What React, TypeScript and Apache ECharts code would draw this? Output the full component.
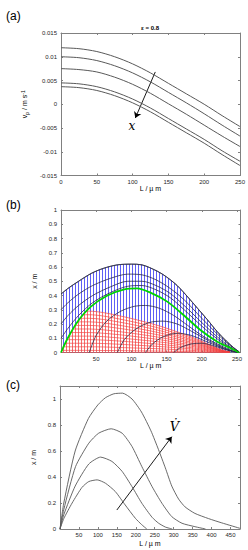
import React, { useEffect, useRef } from 'react';
import * as echarts from 'echarts';

// ---------- Panel (a) ----------
const lA = [0, 25, 50, 75, 100, 125, 150, 175, 200, 225, 250];
const vp1 = [0.0119, 0.0117, 0.0111, 0.0100, 0.0085, 0.0066, 0.0044, 0.0022, 0.0000, -0.0024, -0.0047];
const vp2 = [0.0100, 0.0098, 0.0092, 0.0081, 0.0066, 0.0047, 0.0025, 0.0003, -0.0020, -0.0044, -0.0067];
const vp3 = [0.0075, 0.0073, 0.0068, 0.0057, 0.0042, 0.0023, 0.0001, -0.0021, -0.0044, -0.0067, -0.0089];
const vp4 = [0.0045, 0.0043, 0.0037, 0.0026, 0.0011, -0.0008, -0.0030, -0.0052, -0.0074, -0.0098, -0.0120];
const vp5 = [0.0037, 0.0035, 0.0029, 0.0018, 0.0003, -0.0016, -0.0038, -0.0060, -0.0082, -0.0106, -0.0129];
const arrowA = [[131.7, 0.0068], [103.8, -0.0029]];
const arrowALabel = [99, -0.0046];

// ---------- Panel (b) ----------
const topEnv = [[0, 0.41], [10, 0.45], [25, 0.5], [43, 0.555], [60, 0.59], [80, 0.615], [100, 0.62], [115, 0.615], [137, 0.57], [150, 0.53], [165, 0.47], [180, 0.39], [194, 0.31], [208, 0.23], [222, 0.146], [235, 0.08], [245, 0.035], [253, 0.005]];
const curveA1 = [[0, 0.30], [10, 0.35], [25, 0.41], [45, 0.47], [70, 0.52], [95, 0.55], [115, 0.545], [135, 0.51], [155, 0.45], [175, 0.37], [200, 0.24], [222, 0.13], [240, 0.05], [253, 0.004]];
const curveA2 = [[0, 0.20], [10, 0.26], [25, 0.33], [45, 0.40], [70, 0.46], [95, 0.50], [115, 0.50], [135, 0.47], [155, 0.415], [175, 0.33], [200, 0.21], [222, 0.11], [240, 0.04], [253, 0.003]];
const curveA3 = [[0, 0.10], [10, 0.17], [25, 0.26], [45, 0.35], [70, 0.42], [95, 0.465], [115, 0.47], [135, 0.44], [155, 0.385], [175, 0.30], [200, 0.185], [222, 0.095], [240, 0.035], [253, 0.002]];
const greenCurve = [[0, 0], [9.5, 0.10], [23.5, 0.216], [42, 0.32], [66, 0.40], [90, 0.443], [108, 0.45], [127, 0.42], [151, 0.357], [174, 0.263], [198, 0.158], [222, 0.076], [241, 0.03], [253, 0]];
const curveB1 = [[40, 0], [50, 0.12], [65, 0.22], [85, 0.29], [105, 0.325], [120, 0.33], [140, 0.31], [160, 0.26], [180, 0.19], [200, 0.12], [222, 0.06], [240, 0.02], [253, 0]];
const curveB2 = [[80, 0], [90, 0.09], [105, 0.16], [125, 0.21], [145, 0.22], [165, 0.2], [185, 0.15], [205, 0.095], [225, 0.045], [240, 0.015], [253, 0]];
const curveB3 = [[120, 0], [130, 0.06], [145, 0.11], [165, 0.135], [185, 0.12], [205, 0.08], [225, 0.04], [240, 0.012], [253, 0]];
const curveB4 = [[160, 0], [170, 0.035], [185, 0.06], [200, 0.065], [215, 0.05], [230, 0.025], [245, 0.006], [253, 0]];
const redEnv = [[0, 0], [9.5, 0.10], [23.5, 0.216], [36, 0.29], [40, 0.29], [60, 0.28], [90, 0.25], [115, 0.22], [140, 0.186], [165, 0.145], [185, 0.11], [200, 0.08], [215, 0.045], [230, 0.015], [240, 0.003]];
const red1 = [[36, 0.29], [40, 0.29], [60, 0.28], [90, 0.25], [115, 0.22], [140, 0.186], [165, 0.145], [185, 0.11], [200, 0.08], [215, 0.045], [230, 0.015], [240, 0.003]];
const red2 = [[31.8, 0.265], [40, 0.265], [60, 0.256], [90, 0.228], [115, 0.201], [140, 0.17], [165, 0.133], [185, 0.101], [200, 0.073], [215, 0.041], [230, 0.014], [240, 0.003]];
const red3 = [[27.6, 0.24], [40, 0.24], [60, 0.232], [90, 0.207], [115, 0.182], [140, 0.154], [165, 0.12], [185, 0.091], [200, 0.066], [215, 0.037], [230, 0.012], [240, 0.002]];
const red4 = [[23.4, 0.215], [40, 0.215], [60, 0.208], [90, 0.185], [115, 0.163], [140, 0.138], [165, 0.108], [185, 0.082], [200, 0.059], [215, 0.033], [230, 0.011], [240, 0.002]];
const red5 = [[20.3, 0.19], [40, 0.19], [60, 0.184], [90, 0.164], [115, 0.144], [140, 0.122], [165, 0.095], [185, 0.072], [200, 0.052], [215, 0.029], [230, 0.01], [240, 0.002]];
const red6 = [[17.3, 0.165], [40, 0.165], [60, 0.159], [90, 0.142], [115, 0.125], [140, 0.106], [165, 0.083], [185, 0.063], [200, 0.046], [215, 0.026], [230, 0.009], [240, 0.002]];
const red7 = [[14.3, 0.14], [40, 0.14], [60, 0.135], [90, 0.121], [115, 0.106], [140, 0.09], [165, 0.07], [185, 0.053], [200, 0.039], [215, 0.022], [230, 0.007], [240, 0.001]];
const red8 = [[11.3, 0.115], [40, 0.115], [60, 0.111], [90, 0.099], [115, 0.087], [140, 0.074], [165, 0.058], [185, 0.044], [200, 0.032], [215, 0.018], [230, 0.006], [240, 0.001]];
const red9 = [[8.5, 0.09], [40, 0.09], [60, 0.087], [90, 0.078], [115, 0.068], [140, 0.058], [165, 0.045], [185, 0.034], [200, 0.025], [215, 0.014], [230, 0.005], [240, 0.001]];
const red10 = [[6.2, 0.065], [40, 0.065], [60, 0.063], [90, 0.056], [115, 0.049], [140, 0.042], [165, 0.033], [185, 0.025], [200, 0.018], [215, 0.01], [230, 0.003], [240, 0.001]];
const red11 = [[3.8, 0.04], [40, 0.04], [60, 0.039], [90, 0.034], [115, 0.03], [140, 0.026], [165, 0.02], [185, 0.015], [200, 0.011], [215, 0.006], [230, 0.002], [240, 0]];
const red12 = [[1.4, 0.015], [40, 0.015], [60, 0.014], [90, 0.013], [115, 0.011], [140, 0.01], [165, 0.008], [185, 0.006], [200, 0.004], [215, 0.002], [230, 0.001], [240, 0]];
const redBase = [[0, 0], [240, 0]];

// ---------- Panel (c) ----------
const vdot1 = [[0, 0], [10, 0.2], [40, 0.6], [75, 0.85], [100, 0.955], [120, 1.01], [142, 1.04], [165, 1.045], [190, 1.0], [215, 0.9], [240, 0.755], [260, 0.61], [278, 0.47], [295, 0.33], [313, 0.23], [330, 0.17], [356, 0.12], [392, 0.08], [427, 0.047], [475, 0.005]];
const vdot2 = [[0, 0], [10, 0.15], [41, 0.48], [76, 0.66], [102, 0.737], [135, 0.771], [164, 0.737], [190, 0.635], [216, 0.48], [243, 0.326], [269, 0.198], [295, 0.095], [322, 0.044], [356, 0.018], [384, 0]];
const vdot3 = [[0, 0], [10, 0.11], [40, 0.33], [76, 0.5], [107, 0.553], [137, 0.52], [164, 0.443], [190, 0.326], [216, 0.198], [243, 0.09], [260, 0.045], [278, 0.015], [296, 0]];
const vdot4 = [[0, 0], [10, 0.08], [32, 0.2], [58, 0.32], [76, 0.365], [98, 0.378], [120, 0.352], [146, 0.288], [172, 0.185], [199, 0.082], [215, 0.035], [229, 0]];
const arrowC = [[150, 0.146], [295, 0.71]];
const arrowCLabel = [302, 0.79];

const AX = '#808080';
const TXT = '#262626';
const FONT = 'Liberation Sans, Arial, sans-serif';

function stripe(color: string) {
  const c = document.createElement('canvas');
  c.width = 3;
  c.height = 4;
  const ctx = c.getContext('2d')!;
  ctx.fillStyle = color;
  ctx.fillRect(0, 0, 1, 4);
  return c;
}

function fmtNum(v: number) {
  return String(parseFloat(v.toFixed(4)));
}

function xAxisDef(grid: number, pos: 'top' | 'bottom', min: number, max: number, interval: number, labels: boolean, name?: string, nameGap?: number, hideZero?: boolean) {
  return {
    type: 'value', gridIndex: grid, position: pos, min, max, interval,
    axisLine: { show: true, onZero: false, lineStyle: { color: AX, width: 1 } },
    axisTick: { show: true, inside: true, length: 2, lineStyle: { color: AX } },
    axisLabel: {
      show: labels, fontSize: 6, color: TXT, margin: 3, fontFamily: FONT,
      formatter: (v: number) => {
        if (v > max - 1e-9 && Math.abs(v / interval - Math.round(v / interval)) > 1e-6) return '';
        if (hideZero && v === 0) return '';
        return fmtNum(v);
      },
    },
    splitLine: { show: false },
    name: name || '', nameLocation: 'middle', nameGap: nameGap || 0,
    nameTextStyle: { fontSize: 7, color: '#000', fontFamily: FONT },
  };
}

function yAxisDef(grid: number, pos: 'left' | 'right', min: number, max: number, interval: number, labels: boolean, name?: any, nameGap?: number, rich?: any) {
  return {
    type: 'value', gridIndex: grid, position: pos, min, max, interval,
    axisLine: { show: true, onZero: false, lineStyle: { color: AX, width: 1 } },
    axisTick: { show: true, inside: true, length: 2, lineStyle: { color: AX } },
    axisLabel: {
      show: labels, fontSize: 6, color: TXT, margin: 4, fontFamily: FONT,
      formatter: (v: number) => {
        if (v > max - 1e-9 && Math.abs(v / interval - Math.round(v / interval)) > 1e-6) return '';
        return fmtNum(v);
      },
    },
    splitLine: { show: false },
    name: name || '', nameLocation: 'middle', nameGap: nameGap || 0, nameRotate: 90,
    nameTextStyle: { fontSize: 7, color: '#000', fontFamily: FONT, rich },
  };
}

function line(data: any[], xi: number, yi: number, color: string, width: number, smooth: number | boolean = 0.3, extra: any = {}) {
  return {
    type: 'line', data, xAxisIndex: xi, yAxisIndex: yi, showSymbol: false, symbol: 'none',
    smooth, lineStyle: { color, width }, silent: true, ...extra,
  };
}

function textMark(xi: number, yi: number, pt: number[], text: string, size: number) {
  return {
    type: 'scatter', xAxisIndex: xi, yAxisIndex: yi, data: [pt], symbolSize: 1,
    itemStyle: { color: 'rgba(0,0,0,0)' }, silent: true,
    label: { show: true, position: 'inside', formatter: text, fontSize: size, fontStyle: 'italic', fontFamily: 'DejaVu Serif, serif', color: '#000', opacity: 1 },
  };
}

export default function App() {
  const ref = useRef<HTMLDivElement>(null);
  useEffect(() => {
    const chart = echarts.init(ref.current!, null, { renderer: 'svg' });
    const blueImg = stripe('rgb(95,95,245)');
    const redImg = stripe('rgb(245,110,110)');

    const toPairs = (ys: number[]) => lA.map((l, i) => [l, ys[i]]);
    const gray = '#595959';

    const series: any[] = [
      // panel a
      line(toPairs(vp1), 0, 0, gray, 1),
      line(toPairs(vp2), 0, 0, gray, 1),
      line(toPairs(vp3), 0, 0, gray, 1),
      line(toPairs(vp4), 0, 0, gray, 1),
      line(toPairs(vp5), 0, 0, gray, 1),
      {
        type: 'lines', coordinateSystem: 'cartesian2d', xAxisIndex: 0, yAxisIndex: 0,
        data: [{ coords: arrowA }], symbol: ['none', 'arrow'], symbolSize: 6,
        lineStyle: { color: '#000', width: 0.9, opacity: 1 }, silent: true,
      },
      textMark(0, 0, arrowALabel, 'x', 12),
      // panel b
      line(topEnv, 2, 2, '#30304a', 0.8, 0.3, { areaStyle: { color: { image: blueImg, repeat: 'repeat', imageWidth: 3, imageHeight: 4 }, opacity: 1 } }),
      line(redEnv, 2, 2, 'rgba(0,0,0,0)', 0, 0.3, { areaStyle: { color: { image: redImg, repeat: 'repeat', imageWidth: 3, imageHeight: 4 }, opacity: 1 } }),
      ...[red1, red2, red3, red4, red5, red6, red7, red8, red9, red10, red11, red12, redBase].map((d) => line(d, 2, 2, 'rgb(240,70,70)', 0.7)),
      ...[curveA1, curveA2, curveA3, curveB1, curveB2, curveB3, curveB4].map((d) => line(d, 2, 2, '#2a2a48', 0.8)),
      line(greenCurve, 2, 2, '#00d400', 1.8),
      line(topEnv, 2, 2, '#30304a', 0.8),
      // panel c
      line(vdot1, 4, 4, gray, 0.9, 0.2),
      line(vdot2, 4, 4, gray, 0.9, 0.2),
      line(vdot3, 4, 4, gray, 0.9, 0.2),
      line(vdot4, 4, 4, gray, 0.9, 0.2),
      {
        type: 'lines', coordinateSystem: 'cartesian2d', xAxisIndex: 4, yAxisIndex: 4,
        data: [{ coords: arrowC }], symbol: ['none', 'arrow'], symbolSize: 6,
        lineStyle: { color: '#000', width: 0.9, opacity: 1 }, silent: true,
      },
      textMark(4, 4, arrowCLabel, 'V\u0307', 13),
    ];

    const option: any = {
      animation: false,
      backgroundColor: '#fff',
      grid: [
        { left: 61, top: 33, width: 179, height: 142.5 },
        { left: 61, top: 210, width: 179.5, height: 142.5 },
        { left: 60, top: 386, width: 180, height: 143 },
      ],
      xAxis: [
        xAxisDef(0, 'bottom', 0, 250, 50, true, 'L / µ m', 9),
        xAxisDef(0, 'top', 0, 250, 50, false),
        xAxisDef(1, 'bottom', 0, 255, 50, true, 'L / µ m', 7.5, true),
        xAxisDef(1, 'top', 0, 255, 50, false),
        xAxisDef(2, 'bottom', 0, 475, 50, true, 'L / µ m', 10.5, true),
        xAxisDef(2, 'top', 0, 475, 50, false),
      ],
      yAxis: [
        yAxisDef(0, 'left', -0.015, 0.015, 0.005, true, '{i|v}{s|p}{i| / m s}{u|-1}', 24, {
          i: { fontSize: 7, color: '#000', fontFamily: FONT },
          s: { fontSize: 5, color: '#000', fontFamily: FONT, padding: [4, 0, 0, 0] },
          u: { fontSize: 5, color: '#000', fontFamily: FONT, padding: [0, 0, 4, 0] },
        }),
        yAxisDef(0, 'right', -0.015, 0.015, 0.005, false),
        yAxisDef(1, 'left', 0, 1, 0.1, true, 'x / m', 12),
        yAxisDef(1, 'right', 0, 1, 0.1, false),
        yAxisDef(2, 'left', 0, 1.1, 0.2, true, 'x / m', 18),
        yAxisDef(2, 'right', 0, 1.1, 0.2, false),
      ],
      series,
      graphic: [
        { type: 'text', left: 6, top: 10, style: { text: '(a)', fontSize: 12, fill: '#000', fontFamily: FONT } },
        { type: 'text', left: 6, top: 199, style: { text: '(b)', fontSize: 12, fill: '#000', fontFamily: FONT } },
        { type: 'text', left: 6, top: 379, style: { text: '(c)', fontSize: 12, fill: '#000', fontFamily: FONT } },
        { type: 'text', x: 150, y: 28, style: { text: 'ε = 0.8', fontSize: 6, fontWeight: 'bold', fill: '#000', fontFamily: FONT, align: 'center', verticalAlign: 'middle' } },
      ],
    };
    chart.setOption(option);
    return () => chart.dispose();
  }, []);
  return <div ref={ref} style={{ position: 'fixed', left: 0, top: 0, width: 248, height: 550, background: '#fff' }} />;
}
